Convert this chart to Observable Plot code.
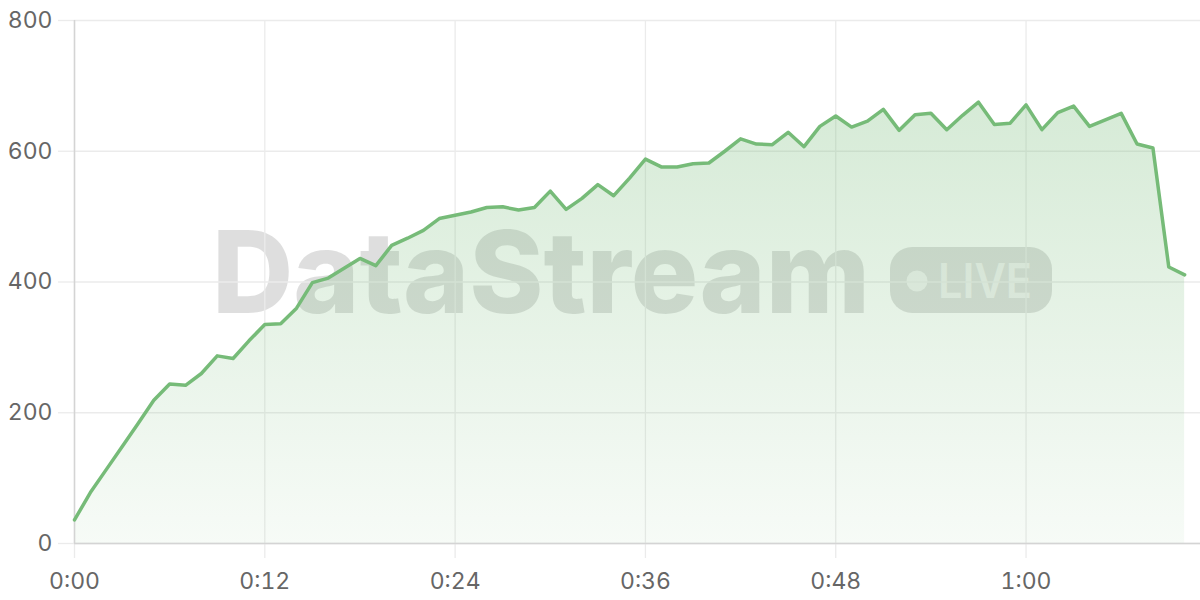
<!DOCTYPE html>
<html>
<head>
<meta charset="utf-8">
<script src="https://cdn.jsdelivr.net/npm/d3@7"></script>
<script src="https://cdn.jsdelivr.net/npm/@observablehq/plot@0.6"></script>
<style>
  html, body { margin: 0; padding: 0; background: #ffffff; }
  #wrap { position: relative; width: 1200px; height: 600px; }
  #wm { position: absolute; left: 0; top: 0; z-index: 0; }
  #chart { position: absolute; left: 0; top: 0; z-index: 1; }
</style>
</head>
<body>
<div id="wrap">
  <svg id="wm" width="1200" height="600">
    <text x="212" y="313" font-family="Inter" font-weight="800" font-size="114" fill="rgba(0,0,0,0.13)" textLength="658" lengthAdjust="spacingAndGlyphs">DataStream</text>
    <rect x="890" y="247" width="162" height="66" rx="22" fill="rgba(0,0,0,0.13)"></rect>
    <circle cx="917" cy="281" r="10.5" fill="rgba(255,255,255,0.6)"></circle>
    <text x="938" y="298" font-family="Inter" font-weight="600" font-size="48" fill="rgba(255,255,255,0.6)" textLength="94" lengthAdjust="spacingAndGlyphs">LIVE</text>
  </svg>
  <div id="chart"></div>
</div>
<script>
// elapsed time (seconds)
const times = [0,1,2,3,4,5,6,7,8,9,10,11,12,13,14,15,16,17,18,19,20,21,22,23,24,25,26,27,28,29,30,31,32,33,34,35,36,37,38,39,40,41,42,43,44,45,46,47,48,49,50,51,52,53,54,55,56,57,58,59,60,61,62,63,64,65,66,67,68,69,70];
const values = [36,78,113,148,183,219,244,242,260,287,283,310,335,336,360,399,406,421,436,425,456,467,479,497,502,507,514,515,510,514,539,511,528,549,532,559,588,576,576,581,582,600,619,611,610,629,607,638,654,637,646,664,632,656,658,633,655,675,641,643,671,633,659,669,638,648,658,611,605,423,411];
const xTicks = [0,12,24,36,48,60];
const xTickLabels = ["0:00","0:12","0:24","0:36","0:48","1:00"];
const yTicks = [0,200,400,600,800];

const data = times.map((t, i) => ({t, v: values[i]}));
const xLabel = new Map(xTicks.map((d, i) => [d, xTickLabels[i]]));

const lineColor = "#76bb78";
const gridColor = "#ebebeb";
const axisColor = "#d4d4d4";
const textColor = "#666666";

const chart = Plot.plot({
  width: 1200,
  height: 600,
  marginLeft: 74,
  marginRight: 0,
  marginTop: 20,
  marginBottom: 57,
  style: {background: "transparent", fontFamily: "Inter, 'Noto Sans', sans-serif"},
  x: {domain: [0, 71]},
  y: {domain: [0, 800]},
  marks: [
    Plot.gridX(xTicks, {stroke: gridColor, strokeOpacity: 1, strokeWidth: 1.3}),
    Plot.gridY(yTicks, {stroke: gridColor, strokeOpacity: 1, strokeWidth: 1.3}),
    Plot.axisX(xTicks, {tickSize: 15, tickPadding: 14, stroke: gridColor, strokeWidth: 1.3, fill: textColor, fontSize: 23, tickFormat: d => xLabel.get(d), label: null}),
    Plot.axisY(yTicks, {tickSize: 16, tickPadding: 6, stroke: gridColor, strokeWidth: 1.3, fill: textColor, fontSize: 23, label: null}),
    Plot.areaY(data, {x: "t", y: "v", fill: "url(#areaGrad)"}),
    Plot.ruleX([0], {stroke: axisColor, strokeWidth: 1.5}),
    Plot.ruleY([0], {stroke: axisColor, strokeWidth: 1.5}),
    Plot.lineY(data, {x: "t", y: "v", stroke: lineColor, strokeWidth: 3.5, strokeLinejoin: "round"})
  ]
});

const svg = d3.select(chart);
const defs = svg.insert("defs", ":first-child");
const grad = defs.append("linearGradient")
  .attr("id", "areaGrad")
  .attr("x1", 0).attr("y1", 0).attr("x2", 0).attr("y2", 1);
grad.append("stop").attr("offset", "0%").attr("stop-color", lineColor).attr("stop-opacity", 0.3);
grad.append("stop").attr("offset", "100%").attr("stop-color", lineColor).attr("stop-opacity", 0.06);

document.getElementById("chart").appendChild(chart);
</script>
</body>
</html>
